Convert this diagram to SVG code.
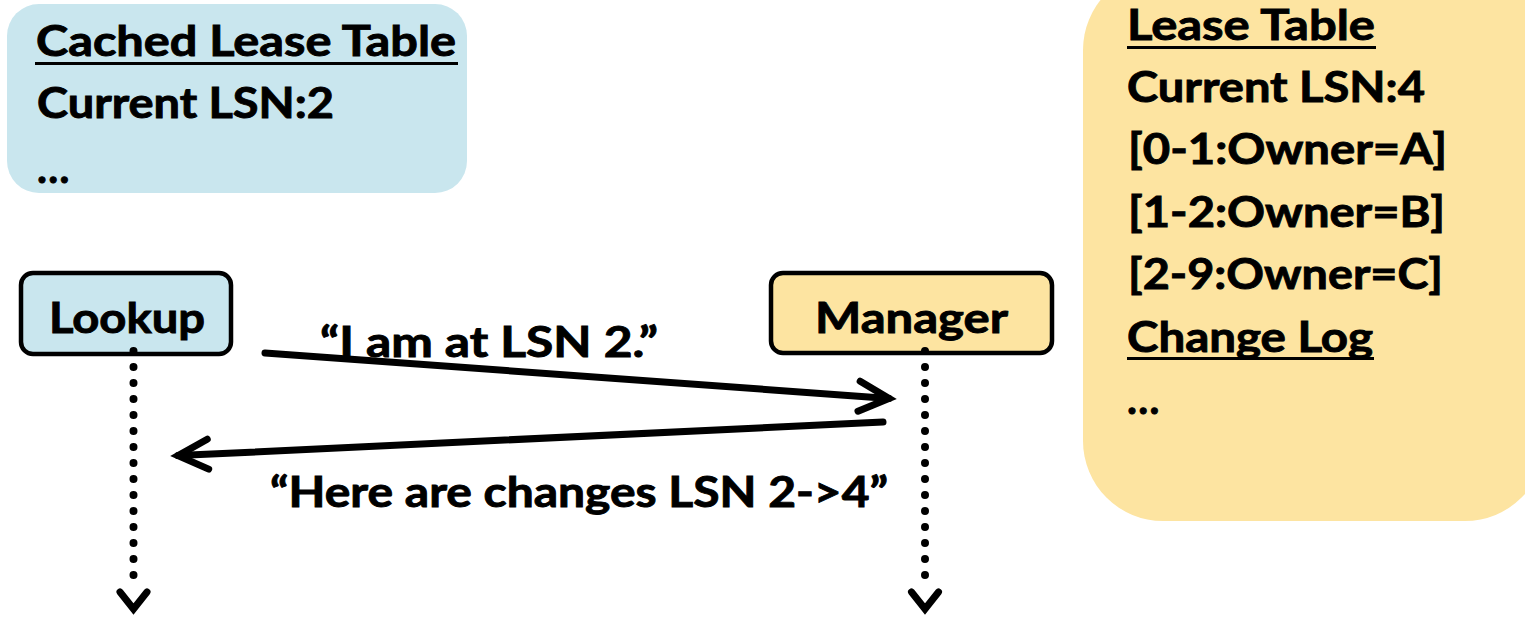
<svg xmlns="http://www.w3.org/2000/svg" width="1525" height="620" viewBox="0 0 1525 620">
<style>
.t{font-family:Lato,"Open Sans","Liberation Sans",sans-serif;font-weight:bold;font-size:42px;fill:#000;stroke:#000;stroke-width:0.9}
.ul{stroke:#000;stroke-width:3}
.life{stroke:#000;stroke-width:8;stroke-linecap:round;stroke-dasharray:0 16;fill:none}
.chev{stroke:#000;stroke-width:7;fill:none;stroke-linejoin:miter;stroke-linecap:round}
.msg{stroke:#000;stroke-width:7;fill:none;stroke-linecap:round}
</style>
<defs>
<marker id="ah" markerUnits="userSpaceOnUse" markerWidth="60" markerHeight="60" refX="0" refY="0" orient="auto" overflow="visible" viewBox="-40 -30 60 60">
<path d="M -30 -15 L 0 0 L -30 15" fill="none" stroke="#000" stroke-width="7" stroke-linecap="round" stroke-linejoin="miter"/>
</marker>
</defs>
<rect width="1525" height="620" fill="#fff"/>
<g id="cached-table">
<rect x="7" y="4" width="460" height="189" rx="32" fill="#c9e6ee"/>
<text class="t" x="36" y="56" textLength="420" lengthAdjust="spacingAndGlyphs">Cached Lease Table</text>
<line class="ul" x1="35" y1="63.5" x2="458" y2="63.5"/>
<text class="t" x="37" y="118" textLength="297" lengthAdjust="spacingAndGlyphs">Current LSN:2</text>
<text class="t" x="37" y="183">…</text>
</g>
<g id="lease-table">
<rect x="1083" y="-30" width="462" height="551" rx="80" fill="#fde4a1"/>
<text class="t" x="1127" y="40" textLength="248" lengthAdjust="spacingAndGlyphs">Lease Table</text>
<line class="ul" x1="1127" y1="47.5" x2="1376" y2="47.5"/>
<text class="t" x="1127" y="102" textLength="298" lengthAdjust="spacingAndGlyphs">Current LSN:4</text>
<text class="t" x="1128" y="164" textLength="319" lengthAdjust="spacingAndGlyphs">[0-1:Owner=A]</text>
<text class="t" x="1128" y="227" textLength="317" lengthAdjust="spacingAndGlyphs">[1-2:Owner=B]</text>
<text class="t" x="1128" y="289" textLength="315" lengthAdjust="spacingAndGlyphs">[2-9:Owner=C]</text>
<text class="t" x="1127" y="352" textLength="246" lengthAdjust="spacingAndGlyphs">Change Log</text>
<line class="ul" x1="1127" y1="358.5" x2="1374" y2="358.5"/>
<text class="t" x="1127" y="414">…</text>
</g>
<g id="lookup">
<rect x="21" y="273" width="210" height="81" rx="12" fill="#c9e6ee" stroke="#000" stroke-width="4.5"/>
<text class="t" x="127" y="333" text-anchor="middle" textLength="156" lengthAdjust="spacingAndGlyphs">Lookup</text>
</g>
<g id="manager">
<rect x="771" y="273" width="281" height="80" rx="12" fill="#fde4a1" stroke="#000" stroke-width="4.5"/>
<text class="t" x="911.5" y="333" text-anchor="middle" textLength="193" lengthAdjust="spacingAndGlyphs">Manager</text>
</g>
<g id="connectors">
<line class="life" x1="133.5" y1="351" x2="133.5" y2="591"/>
<polyline class="chev" points="120,592 133.5,609 147,592"/>
<line class="life" x1="925" y1="351" x2="925" y2="591"/>
<polyline class="chev" points="911.5,592 925,609 938.5,592"/>
<line class="msg" x1="265" y1="353" x2="889" y2="398.4" marker-end="url(#ah)"/>
<line class="msg" x1="883" y1="422" x2="178" y2="455.6" marker-end="url(#ah)"/>
<text class="t" x="320" y="357" textLength="338" lengthAdjust="spacingAndGlyphs">“I am at LSN 2.”</text>
<text class="t" x="270" y="507" textLength="618" lengthAdjust="spacingAndGlyphs">“Here are changes LSN 2-&gt;4”</text>
</g>
</svg>
